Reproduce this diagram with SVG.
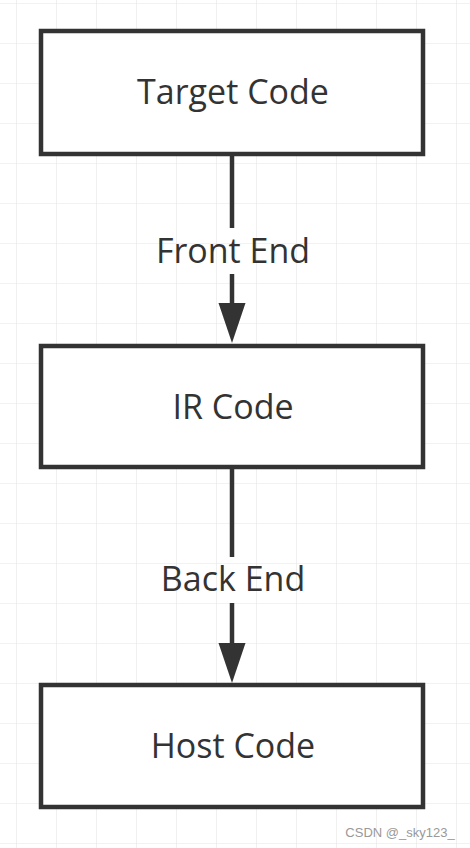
<svg xmlns="http://www.w3.org/2000/svg" width="470" height="848" viewBox="0 0 470 848">
<defs>
<pattern id="grid" x="16" y="3" width="40" height="40" patternUnits="userSpaceOnUse">
<path d="M0 0H40M0 0V40" fill="none" stroke="#e6e6e6" stroke-width="1.2"/>
</pattern>
<style>
.box{fill:#fff;stroke:#333;stroke-width:4.5}
.lbl{font-family:"Open Sans","Noto Sans","Liberation Sans",sans-serif;font-size:34px;fill:#333;text-anchor:middle}
.edge{stroke:#333;stroke-width:4.5;fill:none}
.head{fill:#333}
</style>
</defs>
<rect width="470" height="848" fill="#fff"/>
<rect width="470" height="848" fill="url(#grid)"/>
<g id="connectors">
<path class="edge" d="M232 155V228"/>
<path class="edge" d="M232 274V306"/>
<path class="head" d="M218.5 303L245.5 303L232 343Z"/>
<text class="lbl" x="233" y="263">Front End</text>
<path class="edge" d="M232 468V557"/>
<path class="edge" d="M232 603V646"/>
<path class="head" d="M218.5 643L245.5 643L232 683Z"/>
<text class="lbl" x="233" y="591">Back End</text>
</g>
<g id="target">
<rect class="box" x="41" y="31" width="382" height="123"/>
<text class="lbl" x="233" y="104">Target Code</text>
</g>
<g id="ir">
<rect class="box" x="41" y="346" width="382" height="121"/>
<text class="lbl" x="233" y="419">IR Code</text>
</g>
<g id="host">
<rect class="box" x="41" y="685" width="382" height="122"/>
<text class="lbl" x="233" y="758">Host Code</text>
</g>
<text x="400" y="837" font-family="'Liberation Sans',sans-serif" font-size="13" fill="#999" text-anchor="middle">CSDN @_sky123_</text>
</svg>
